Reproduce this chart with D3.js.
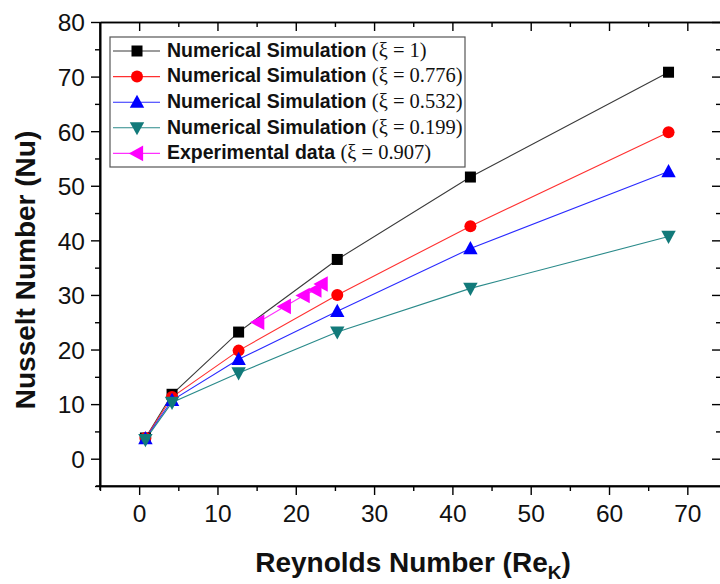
<!DOCTYPE html>
<html><head><meta charset="utf-8">
<script src="https://cdn.jsdelivr.net/npm/d3@7"></script>
<style>
html,body{margin:0;padding:0;background:#fff;}
svg{display:block;}
</style>
</head><body>
<svg id="chart" width="720" height="584"></svg>
<script>
// ---- data ----
const reSim = [0.8, 4.2, 12.7, 25.3, 42.3, 67.6];
const nuXi1 = [3.8, 11.8, 23.2, 36.5, 51.6, 70.8];
const nuXi0776 = [3.8, 11.3, 19.8, 30.0, 42.6, 59.8];
const nuXi0532 = [3.7, 10.7, 18.2, 27.0, 38.5, 52.6];
const nuXi0199 = [3.5, 10.3, 15.7, 23.2, 31.2, 40.7];
const reExp = [15.2, 18.6, 21.0, 22.5, 23.3];
const nuExp = [25.0, 27.9, 29.9, 30.9, 32.0];
const seriesNames = ["Numerical Simulation ", "Numerical Simulation ", "Numerical Simulation ", "Numerical Simulation ", "Experimental data "];
const seriesXi = ["(ξ = 1)", "(ξ = 0.776)", "(ξ = 0.532)", "(ξ = 0.199)", "(ξ = 0.907)"];
const xTicks = [0, 10, 20, 30, 40, 50, 60, 70];
const xMinor = [-5, 5, 15, 25, 35, 45, 55, 65];
const yTicks = [0, 10, 20, 30, 40, 50, 60, 70, 80];
const yMinor = [-5, 5, 15, 25, 35, 45, 55, 65, 75];

const series = [
  {x: reSim, y: nuXi1, color: "#000000", line: "#3a3a3a", shape: "square", size: 11},
  {x: reSim, y: nuXi0776, color: "#ff0000", line: "#ff3030", shape: "circle", size: 12},
  {x: reSim, y: nuXi0532, color: "#0000ff", line: "#2a2aff", shape: "up", size: 12},
  {x: reSim, y: nuXi0199, color: "#127a7a", line: "#2a8a8a", shape: "down", size: 12},
  {x: reExp, y: nuExp, color: "#ff00ff", line: "#ff30ff", shape: "left", size: 13}
];

const svg = d3.select("#chart");
const L = 100, R = 721, T = 22, B = 486;
const x = d3.scaleLinear().domain([-5, 74.3]).range([L, R]);
const y = d3.scaleLinear().domain([-5, 80]).range([B, T]);

const font = "'Liberation Sans', Arial, sans-serif";
const serif = "'Liberation Serif', 'Times New Roman', serif";

// axes
function styleAxis(g){
  g.selectAll("path").attr("stroke","#000").attr("stroke-width",1.6);
  g.selectAll("line").attr("stroke","#000").attr("stroke-width",1.4);
  g.selectAll("text").attr("font-family",font).attr("font-size",24.5).attr("fill","#111");
}
const gxMin = svg.append("g").attr("transform",`translate(0,${B})`)
  .call(d3.axisBottom(x).tickValues(xMinor).tickSize(5).tickFormat("").tickSizeOuter(0));
styleAxis(gxMin);
const gx = svg.append("g").attr("transform",`translate(0,${B})`)
  .call(d3.axisBottom(x).tickValues(xTicks).tickSize(9).tickPadding(9).tickSizeOuter(0).tickFormat(d3.format("d")));
styleAxis(gx);
gx.selectAll("text").attr("dy","0.75em");

const gyMin = svg.append("g").attr("transform",`translate(${L},0)`)
  .call(d3.axisLeft(y).tickValues(yMinor).tickSize(5).tickFormat("").tickSizeOuter(0));
styleAxis(gyMin);
const gy = svg.append("g").attr("transform",`translate(${L},0)`)
  .call(d3.axisLeft(y).tickValues(yTicks).tickSize(9).tickPadding(6).tickSizeOuter(0).tickFormat(d3.format("d")));
styleAxis(gy);
gy.selectAll("text").attr("dy","0.36em");

// top axis (inward)
const gt = svg.append("g").attr("transform",`translate(0,${T})`)
  .call(d3.axisTop(x).tickValues(xTicks).tickSize(-9).tickFormat("").tickSizeOuter(0));
styleAxis(gt);
const gtm = svg.append("g").attr("transform",`translate(0,${T})`)
  .call(d3.axisTop(x).tickValues(xMinor.filter(v=>v>-5)).tickSize(-5).tickFormat("").tickSizeOuter(0));
styleAxis(gtm);
// right axis (inward)
const gr = svg.append("g").attr("transform",`translate(${R},0)`)
  .call(d3.axisRight(y).tickValues(yTicks).tickSize(-9).tickFormat("").tickSizeOuter(0));
styleAxis(gr);
const grm = svg.append("g").attr("transform",`translate(${R},0)`)
  .call(d3.axisRight(y).tickValues(yMinor.filter(v=>v>-5 && v<80)).tickSize(-5).tickFormat("").tickSizeOuter(0));
styleAxis(grm);
svg.append("line").attr("x1",x(-5)-4).attr("x2",R).attr("y1",B).attr("y2",B).attr("stroke","#000").attr("stroke-width",1.6);
svg.append("line").attr("x1",L).attr("x2",L).attr("y1",T).attr("y2",B+4).attr("stroke","#000").attr("stroke-width",1.6);

// markers
function marker(sel, shape, color, s){
  if(shape==="square"){
    sel.append("rect").attr("x",-s/2).attr("y",-s/2).attr("width",s).attr("height",s).attr("fill",color);
  } else if(shape==="circle"){
    sel.append("circle").attr("r",s/2).attr("fill",color);
  } else {
    const w = s*1.2, h = s*1.05;
    let pts;
    if(shape==="up") pts = [[0,-h*0.6],[w/2,h*0.45],[-w/2,h*0.45]];
    else if(shape==="down") pts = [[0,h*0.6],[w/2,-h*0.45],[-w/2,-h*0.45]];
    else pts = [[-h*0.6,0],[h*0.45,-w/2],[h*0.45,w/2]];
    sel.append("polygon").attr("points",pts.map(p=>p.join(",")).join(" ")).attr("fill",color);
  }
}

const lineGen = d3.line().x(d=>x(d[0])).y(d=>y(d[1]));
series.forEach(s=>{
  const pts = s.x.map((v,i)=>[v, s.y[i]]);
  svg.append("path").attr("d",lineGen(pts)).attr("fill","none").attr("stroke",s.line).attr("stroke-width",1.1);
});
series.forEach(s=>{
  s.x.forEach((v,i)=>{
    const g = svg.append("g").attr("transform",`translate(${x(v)},${y(s.y[i])})`);
    marker(g, s.shape, s.color, s.size);
  });
});

// legend
const lg = svg.append("g");
lg.append("rect").attr("x",110).attr("y",37).attr("width",355).attr("height",130)
  .attr("fill","#fff").attr("stroke","#555").attr("stroke-width",1.2);
series.forEach((s,i)=>{
  const cy = 51 + i*25.6;
  lg.append("line").attr("x1",113).attr("x2",160).attr("y1",cy).attr("y2",cy).attr("stroke",s.line).attr("stroke-width",1.1);
  const g = lg.append("g").attr("transform",`translate(137,${cy})`);
  marker(g, s.shape, s.color, s.size);
  const t = lg.append("text").attr("x",167).attr("y",cy).attr("dy","0.36em").attr("fill","#111");
  t.append("tspan").attr("font-family",font).attr("font-weight","bold").attr("font-size",19.5).text(seriesNames[i]);
  t.append("tspan").attr("font-family",serif).attr("font-size",20.5).text(seriesXi[i]);
});

// titles
const xt = svg.append("text").attr("x",413).attr("y",572).attr("text-anchor","middle")
  .attr("font-family",font).attr("font-weight","bold").attr("font-size",28).attr("fill","#111");
xt.append("tspan").text("Reynolds Number (Re");
xt.append("tspan").attr("font-size",19).attr("dy",7).text("K");
xt.append("tspan").attr("dy",-7).text(")");

svg.append("text").attr("transform","translate(35,270) rotate(-90)").attr("text-anchor","middle")
  .attr("font-family",font).attr("font-weight","bold").attr("font-size",28).attr("fill","#111")
  .text("Nusselt Number (Nu)");
</script>
</body></html>
